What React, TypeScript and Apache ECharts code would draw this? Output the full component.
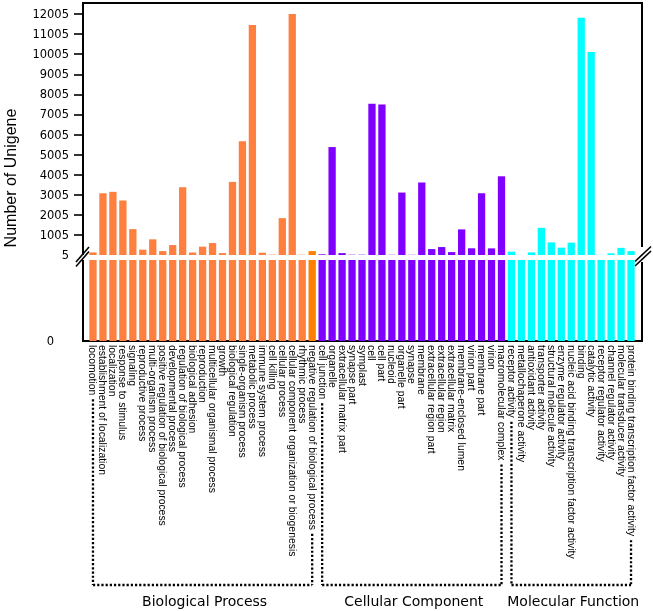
import React, { useEffect, useRef } from 'react';
import * as echarts from 'echarts';

const bpLabels = [
  'locomotion', 'establishment of localization', 'localization', 'response to stimulus', 'signaling',
  'reproductive process', 'multi-organism process', 'positive regulation of biological process',
  'developmental process', 'regulation of biological process', 'biological adhesion', 'reproduction',
  'multicellular organismal process', 'growth', 'biological regulation', 'single-organism process',
  'metabolic process', 'immune system process', 'cell killing', 'cellular process',
  'cellular component organization or biogenesis', 'rhythmic process', 'negative regulation of biological process',
];
const bpValues = [135, 3080, 3150, 2720, 1295, 270, 785, 200, 500, 3380, 130, 420, 600, 100, 3645, 5665, 11460, 120, 25, 1840, 12005, 20, 200];

const ccLabels = [
  'cell junction', 'organelle', 'extracellular matrix part', 'synapse part', 'symplast', 'cell', 'cell part',
  'nucleoid', 'organelle part', 'synapse', 'membrane', 'extracellular region part', 'extracellular region',
  'extracellular matrix', 'membrane-enclosed lumen', 'virion part', 'membrane part', 'virion', 'macromolecular complex',
];
const ccValues = [40, 5380, 100, 20, 20, 7535, 7500, 15, 3115, 15, 3615, 300, 400, 150, 1280, 340, 3080, 335, 3925];

const mfLabels = [
  'receptor activity', 'metallochaperone activity', 'antioxidant activity', 'transporter activity',
  'structural molecule activity', 'enzyme regulator activity', 'nucleic acid binding transcription factor activity',
  'binding', 'catalytic activity', 'receptor regulator activity', 'channel regulator activity',
  'molecular transducer activity', 'protein binding transcription factor activity',
];
const mfValues = [170, 8, 135, 1360, 635, 370, 620, 11820, 10120, 10, 85, 360, 200];

const groupNames = ['Biological Process', 'Cellular Component', 'Molecular Function'];
const groupColors = ['#FF7F3F', '#7F00FF', '#00FFFF'];
const accentLabels = ['negative regulation of biological process'];
const accentColor = '#FF7F00';

const upperTickValues = [5, 1005, 2005, 3005, 4005, 5005, 6005, 7005, 8005, 9005, 10005, 11005, 12005];
const lowerTickValues = [0];
const upperMin = 5;
const upperMax = 12555;
const lowerMin = 0;
const lowerMax = 5;

const yTitle = 'Number of Unigene';

const LABEL_FONT = '"Liberation Sans", Arial, Helvetica, sans-serif';
const TICK_FONT = '"DejaVu Sans", sans-serif';
const LABEL_SIZE = 10.4;

export default function App() {
  const ref = useRef<HTMLDivElement>(null);

  useEffect(() => {
    if (!ref.current) return;
    const chart = echarts.init(ref.current, null, { renderer: 'svg' });

    const groups = [
      { labels: bpLabels, values: bpValues },
      { labels: ccLabels, values: ccValues },
      { labels: mfLabels, values: mfValues },
    ];
    const categories: string[] = [];
    const data: any[] = [];
    const groupRanges: { start: number; end: number }[] = [];
    groups.forEach((g, gi) => {
      const start = categories.length;
      g.labels.forEach((lab, i) => {
        categories.push(lab);
        const color = accentLabels.includes(lab) ? accentColor : groupColors[gi];
        data.push({ value: g.values[i], itemStyle: { color } });
      });
      groupRanges.push({ start, end: categories.length - 1 });
    });

    const gridLeft = 88;
    const gridWidth = 548;
    const upperTop = 3;
    const upperHeight = 252;
    const lowerTop = 260;
    const lowerHeight = 81;
    const labelMargin = 4;
    const plain = (v: number) => String(v);

    const option: any = {
      animation: false,
      grid: [
        { left: gridLeft, width: gridWidth, top: upperTop, height: upperHeight },
        { left: gridLeft, width: gridWidth, top: lowerTop, height: lowerHeight },
      ],
      xAxis: [
        { type: 'category', gridIndex: 0, data: categories, show: false },
        {
          type: 'category', gridIndex: 1, data: categories,
          axisLine: { show: false }, axisTick: { show: false },
          axisLabel: {
            interval: 0, rotate: -90, margin: labelMargin, color: '#000',
            fontSize: LABEL_SIZE, fontFamily: LABEL_FONT,
          },
        },
      ],
      yAxis: [
        {
          type: 'value', gridIndex: 0, min: upperMin, max: upperMax, offset: 5,
          axisLine: { show: false }, splitLine: { show: false },
          axisTick: {
            show: true, length: 9, customValues: upperTickValues.slice(1),
            lineStyle: { color: '#000', width: 1.6 },
          },
          axisLabel: {
            customValues: upperTickValues, margin: 14, color: '#000',
            fontSize: 11.5, fontFamily: TICK_FONT, formatter: plain,
          },
        },
        {
          type: 'value', gridIndex: 1, min: lowerMin, max: lowerMax, offset: 5,
          axisLine: { show: false }, splitLine: { show: false }, axisTick: { show: false },
          axisLabel: {
            customValues: lowerTickValues, margin: 29, color: '#000',
            fontSize: 11.5, fontFamily: TICK_FONT, formatter: plain,
          },
        },
      ],
      series: [
        { type: 'bar', xAxisIndex: 0, yAxisIndex: 0, data, barWidth: 7.3, clip: true },
        { type: 'bar', xAxisIndex: 1, yAxisIndex: 1, data, barWidth: 7.3, clip: true },
      ],
    };
    chart.setOption(option);

    // decorations
    const L = gridLeft - 5;
    const R = gridLeft + gridWidth + 6;
    const T = upperTop;
    const UB = upperTop + upperHeight;
    const LT = lowerTop;
    const B = lowerTop + lowerHeight;
    const solid = { stroke: '#000', lineWidth: 2 };
    const line = (x1: number, y1: number, x2: number, y2: number, style: any = solid) => ({
      type: 'line', shape: { x1, y1, x2, y2 }, style, silent: true,
    });
    const dotted = { stroke: '#000', lineWidth: 2.3, lineDash: [2.2, 2], lineCap: 'butt' };

    const ctx = document.createElement('canvas').getContext('2d')!;
    ctx.font = `${LABEL_SIZE}px ${LABEL_FONT}`;
    const labelEnd = (idx: number) => B + labelMargin + ctx.measureText(categories[idx]).width + 4;
    const xOf = (idx: number) => chart.convertToPixel({ xAxisIndex: 1 } as any, idx) as unknown as number;

    const bracketY = 585;
    const graphics: any[] = [
      line(L - 1, T, R + 1, T),
      line(L, T, L, UB),
      line(L, LT, L, B + 1),
      line(R, T, R, UB - 8),
      line(R, LT + 2, R, B + 1),
      line(L - 1, B, R + 1, B),
      // break marks left
      line(L - 7, 262, L + 6, 247, { stroke: '#000', lineWidth: 1.6 }),
      line(L - 7, 266.5, L + 6, 251.5, { stroke: '#000', lineWidth: 1.6 }),
      // break marks right
      line(R - 7, 261.5, R + 9, 246.5, { stroke: '#000', lineWidth: 1.6 }),
      line(R - 7, 266, R + 9, 251, { stroke: '#000', lineWidth: 1.6 }),
      {
        type: 'text', x: 10, y: 178, rotation: Math.PI / 2, silent: true,
        style: {
          text: yTitle, fill: '#000', fontSize: 16, fontFamily: LABEL_FONT,
          align: 'center', verticalAlign: 'middle', textAlign: 'center', textVerticalAlign: 'middle',
        },
      },
    ];
    groupRanges.forEach((r, gi) => {
      const x1 = xOf(r.start);
      const x2 = xOf(r.end);
      graphics.push(line(x1, labelEnd(r.start), x1, bracketY, dotted));
      graphics.push(line(x2, labelEnd(r.end), x2, bracketY, dotted));
      graphics.push(line(x1, bracketY, x2, bracketY, dotted));
      graphics.push({
        type: 'text', x: (x1 + x2) / 2 + 2, y: 601, silent: true,
        style: {
          text: groupNames[gi], fill: '#000', fontSize: 14, fontFamily: TICK_FONT,
          align: 'center', verticalAlign: 'middle', textAlign: 'center', textVerticalAlign: 'middle',
        },
      });
    });
    chart.setOption({ graphic: graphics });

    return () => chart.dispose();
  }, []);

  return <div ref={ref} style={{ position: 'fixed', left: 0, top: 0, width: 653, height: 611 }} />;
}
